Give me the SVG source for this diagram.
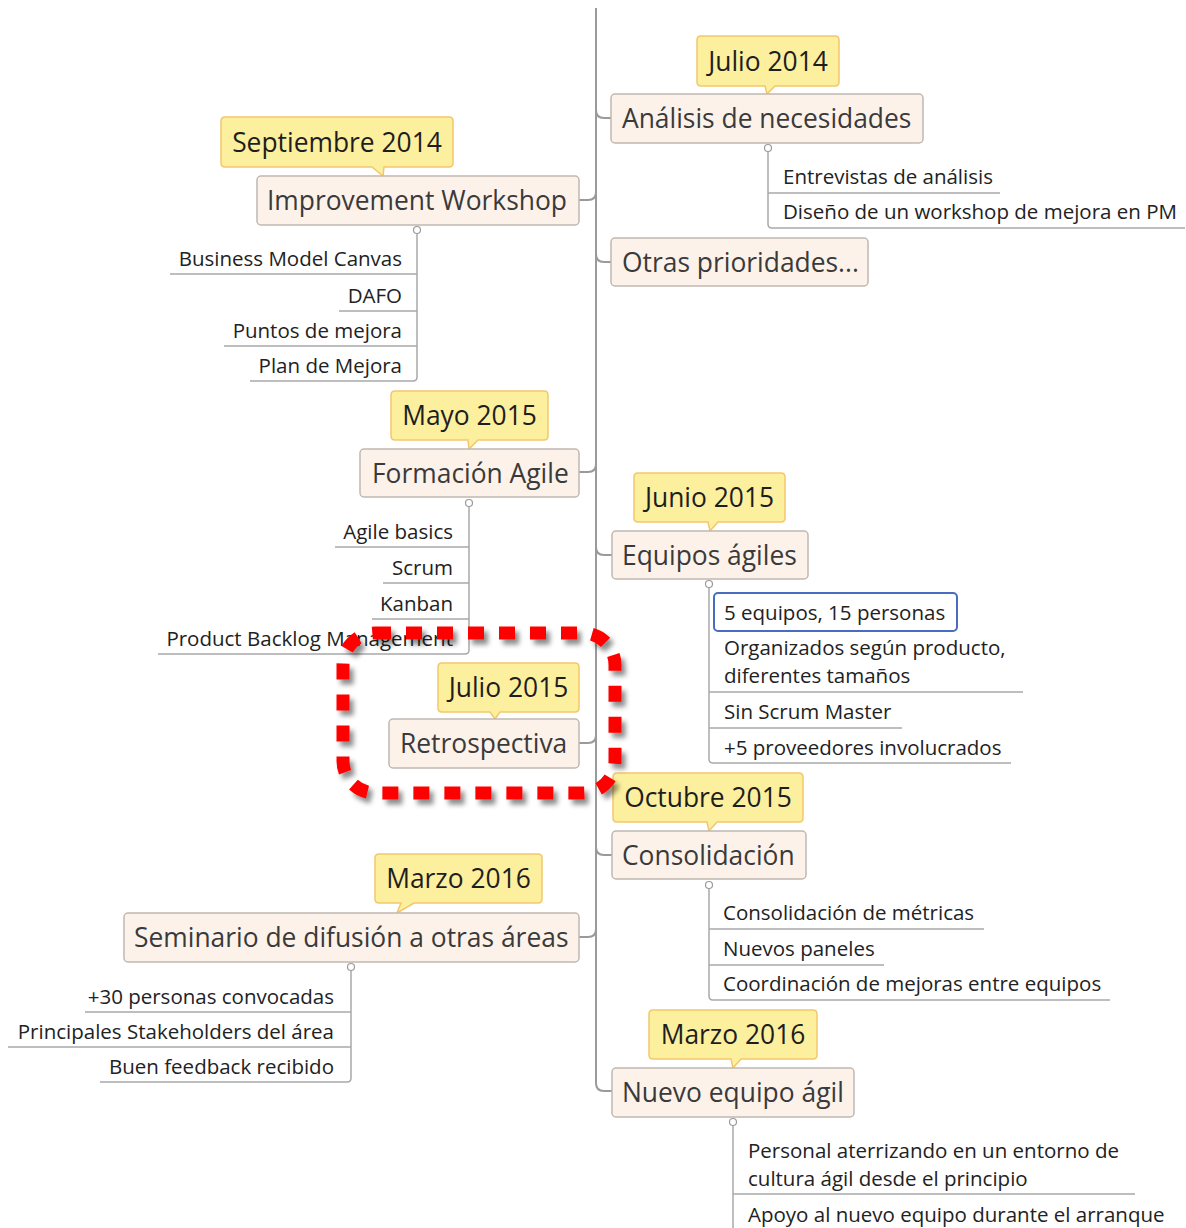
<svg xmlns="http://www.w3.org/2000/svg" width="1186" height="1228" viewBox="0 0 1186 1228">
<defs>
<style>
text{font-family:'Open Sans','Liberation Sans',sans-serif}
.cb{fill:#fcef9e;stroke:#f2c76b;stroke-width:1.5}
.bx{fill:#fdf2ea;stroke:#bfb8b1;stroke-width:1.5}
.ct{font-size:26.4px;fill:#1e1e1e;text-anchor:middle}
.mt{font-size:26.4px;fill:#3a3a3a}
.st{font-size:20.5px;fill:#222}
.e{text-anchor:end}
.ln{fill:none;stroke:#a9a9a9;stroke-width:1.5}
.sp{fill:none;stroke:#9a9a9a;stroke-width:2}
.kb{fill:#fff;stroke:#9a9a9a;stroke-width:1.2}
</style>
<filter id="sh" x="-10%" y="-10%" width="130%" height="130%">
<feDropShadow dx="4" dy="5" stdDeviation="2.5" flood-color="#000" flood-opacity="0.45"/>
</filter>
</defs>
<rect width="1186" height="1228" fill="#fff"/>

<g id="connectors">
<path class="sp" d="M596,8 V1083 Q596,1091 604,1091 H612"/>
<path class="sp" d="M596,110 Q596,118 604,118 H611"/>
<path class="sp" d="M596,254 Q596,262 604,262 H611"/>
<path class="sp" d="M596,547 Q596,555 604,555 H612"/>
<path class="sp" d="M596,847 Q596,855 604,855 H612"/>
<path class="sp" d="M579,200 H588 Q596,200 596,192"/>
<path class="sp" d="M579,472 H588 Q596,472 596,464"/>
<path class="sp" d="M579,743 H588 Q596,743 596,735"/>
<path class="sp" d="M579,937 H588 Q596,937 596,929"/>

<path class="ln" d="M768,152 V224 Q768,228 772,228 H1185 M768,193 H1000"/>
<path class="ln" d="M417,234 V377 Q417,381 413,381 H250 M417,274 H170 M417,311 H339 M417,346 H224"/>
<path class="ln" d="M469,507 V650 Q469,654 465,654 H158 M469,547 H335 M469,583 H383 M469,619 H372"/>
<path class="ln" d="M709,588 V759 Q709,763 713,763 H1011 M709,692 H1023 M709,728 H902"/>
<path class="ln" d="M709,889 V996 Q709,1000 713,1000 H1110 M709,929 H984 M709,965 H884"/>
<path class="ln" d="M351,971 V1078 Q351,1082 347,1082 H100 M351,1012 H85 M351,1047 H8"/>
<path class="ln" d="M733,1126 V1228 M733,1194 H1135"/>
<circle class="kb" cx="768" cy="148" r="3.5"/>
<circle class="kb" cx="417" cy="230" r="3.5"/>
<circle class="kb" cx="469" cy="503" r="3.5"/>
<circle class="kb" cx="709" cy="584" r="3.5"/>
<circle class="kb" cx="709" cy="885" r="3.5"/>
<circle class="kb" cx="351" cy="967" r="3.5"/>
<circle class="kb" cx="733" cy="1122" r="3.5"/>
</g>

<g id="node-analisis">
<path class="cb" d="M701,36 H835 Q839,36 839,40 V82 Q839,86 835,86 H775 L767,94 L765,86 H701 Q697,86 697,82 V40 Q697,36 701,36 Z"/>
<text class="ct" x="768" y="71">Julio 2014</text>
<rect class="bx" x="611" y="94" width="312" height="49" rx="4"/>
<text class="mt" x="622" y="128">Análisis de necesidades</text>
<text class="st" x="783" y="184">Entrevistas de análisis</text>
<text class="st" x="783" y="219">Diseño de un workshop de mejora en PM</text>
</g>

<g id="node-otras">
<rect class="bx" x="611" y="238" width="257" height="48" rx="4"/>
<text class="mt" x="622" y="272">Otras prioridades...</text>
</g>

<g id="node-improvement">
<path class="cb" d="M225,117 H449 Q453,117 453,121 V163 Q453,167 449,167 H384 L383,176 L372,167 H225 Q221,167 221,163 V121 Q221,117 225,117 Z"/>
<text class="ct" x="337" y="152">Septiembre 2014</text>
<rect class="bx" x="257" y="176" width="322" height="49" rx="4"/>
<text class="mt" x="267" y="210">Improvement Workshop</text>
<text class="st e" x="402" y="265.5">Business Model Canvas</text>
<text class="st e" x="402" y="302.5">DAFO</text>
<text class="st e" x="402" y="337.5">Puntos de mejora</text>
<text class="st e" x="402" y="372.5">Plan de Mejora</text>
</g>

<g id="node-formacion">
<path class="cb" d="M395,391 H544 Q548,391 548,395 V436 Q548,440 544,440 H478 L469,449 L468,440 H395 Q391,440 391,436 V395 Q391,391 395,391 Z"/>
<text class="ct" x="469.5" y="425">Mayo 2015</text>
<rect class="bx" x="360" y="449" width="219" height="48" rx="4"/>
<text class="mt" x="372" y="483">Formación Agile</text>
<text class="st e" x="453" y="538.5">Agile basics</text>
<text class="st e" x="453" y="574.5">Scrum</text>
<text class="st e" x="453" y="610.5">Kanban</text>
<text class="st e" x="453" y="645.5">Product Backlog Management</text>
</g>

<g id="node-equipos">
<path class="cb" d="M638,473 H781 Q785,473 785,477 V518 Q785,522 781,522 H718 L710,531 L708,522 H638 Q634,522 634,518 V477 Q634,473 638,473 Z"/>
<text class="ct" x="709.5" y="507">Junio 2015</text>
<rect class="bx" x="612" y="531" width="196" height="48" rx="4"/>
<text class="mt" x="622" y="565">Equipos ágiles</text>
<rect x="714" y="593" width="243" height="38" rx="4" fill="#fff" stroke="#4a6cc0" stroke-width="2"/>
<text class="st" x="724" y="620">5 equipos, 15 personas</text>
<text class="st" x="724" y="655">Organizados según producto,</text>
<text class="st" x="724" y="683">diferentes tamaños</text>
<text class="st" x="724" y="719">Sin Scrum Master</text>
<text class="st" x="724" y="755">+5 proveedores involucrados</text>
</g>

<g id="node-retrospectiva">
<path class="cb" d="M442,663 H575 Q579,663 579,667 V708 Q579,712 575,712 H500 L495,719 L490,712 H442 Q438,712 438,708 V667 Q438,663 442,663 Z"/>
<text class="ct" x="508.5" y="697">Julio 2015</text>
<rect class="bx" x="389" y="719" width="190" height="49" rx="4"/>
<text class="mt" x="400" y="753">Retrospectiva</text>
</g>

<g id="node-consolidacion">
<path class="cb" d="M617,773 H799 Q803,773 803,777 V818 Q803,822 799,822 H717 L709,831 L707,822 H617 Q613,822 613,818 V777 Q613,773 617,773 Z"/>
<text class="ct" x="708" y="807">Octubre 2015</text>
<rect class="bx" x="612" y="831" width="194" height="48" rx="4"/>
<text class="mt" x="622" y="865">Consolidación</text>
<text class="st" x="723" y="920">Consolidación de métricas</text>
<text class="st" x="723" y="956">Nuevos paneles</text>
<text class="st" x="723" y="991">Coordinación de mejoras entre equipos</text>
</g>

<g id="node-seminario">
<path class="cb" d="M379,854 H538 Q542,854 542,858 V899 Q542,903 538,903 H414 L397,913 L401,903 H379 Q375,903 375,899 V858 Q375,854 379,854 Z"/>
<text class="ct" x="458.5" y="888">Marzo 2016</text>
<rect class="bx" x="124" y="913" width="455" height="49" rx="4"/>
<text class="mt" x="134" y="947">Seminario de difusión a otras áreas</text>
<text class="st e" x="334" y="1003.5">+30 personas convocadas</text>
<text class="st e" x="334" y="1038.5">Principales Stakeholders del área</text>
<text class="st e" x="334" y="1073.5">Buen feedback recibido</text>
</g>

<g id="node-nuevo">
<path class="cb" d="M653,1010 H813 Q817,1010 817,1014 V1055 Q817,1059 813,1059 H741 L733,1068 L731,1059 H653 Q649,1059 649,1055 V1014 Q649,1010 653,1010 Z"/>
<text class="ct" x="733" y="1044">Marzo 2016</text>
<rect class="bx" x="612" y="1068" width="242" height="49" rx="4"/>
<text class="mt" x="622" y="1102">Nuevo equipo ágil</text>
<text class="st" x="748" y="1158">Personal aterrizando en un entorno de</text>
<text class="st" x="748" y="1186">cultura ágil desde el principio</text>
<text class="st" x="748" y="1222">Apoyo al nuevo equipo durante el arranque</text>
</g>

<g id="highlight">
<rect x="343" y="633" width="272" height="160" rx="32" fill="none" stroke="#ff0000" stroke-width="13" stroke-dasharray="16 15" filter="url(#sh)"/>
</g>
</svg>
